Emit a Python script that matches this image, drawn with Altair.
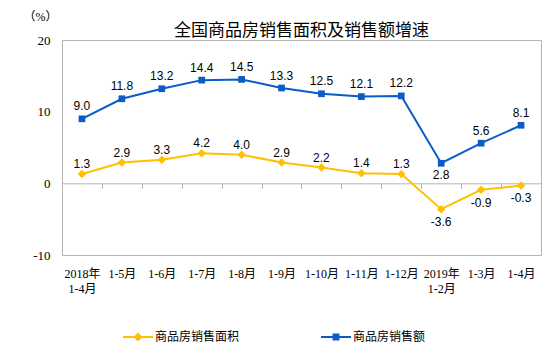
import altair as alt
import pandas as pd

categories = ["2018年\n1-4月", "1-5月", "1-6月", "1-7月", "1-8月", "1-9月", "1-10月",
              "1-11月", "1-12月", "2019年\n1-2月", "1-3月", "1-4月"]
area_growth = [1.3, 2.9, 3.3, 4.2, 4.0, 2.9, 2.2, 1.4, 1.3, -3.6, -0.9, -0.3]
sales_growth = [9.0, 11.8, 13.2, 14.4, 14.5, 13.3, 12.5, 12.1, 12.2, 2.8, 5.6, 8.1]
series_names = ["商品房销售面积", "商品房销售额"]
y_ticks = [-10, 0, 10, 20]
title_text = "全国商品房销售面积及销售额增速"
unit_text = "（%）"

rows = []
for s, vals in zip(series_names, [area_growth, sales_growth]):
    for c, v in zip(categories, vals):
        rows.append({"month": c, "series": s, "value": v, "label": f"{v:.1f}"})
df = pd.DataFrame(rows)

COLORS = ["#FFC000", "#0A5CC6"]
GRAY = "#B4B4B4"
SERIF = "Liberation Serif, Noto Sans CJK SC"
CJK = "Noto Sans CJK SC"

x = alt.X(
    "month:N", sort=categories,
    scale=alt.Scale(type="band", paddingInner=0, paddingOuter=0),
    axis=alt.Axis(title=None, orient="bottom", offset=-71.67, domain=True, domainColor=GRAY,
                  ticks=True, tickColor=GRAY, tickSize=5, tickBand="extent", grid=False,
                  labelAngle=0, labelFont=SERIF, labelFontSize=12, labelColor="black",
                  labelPadding=80, labelBaseline="top", labelLineHeight=15.5,
                  labelOverlap=False, labelExpr="split(datum.label, '\\n')"),
)
y = alt.Y(
    "value:Q", scale=alt.Scale(domain=[-10, 20], nice=False, zero=False),
    axis=alt.Axis(values=y_ticks, title=unit_text, titleAngle=0, titleX=-22, titleY=-24,
                  titleAlign="center", titleBaseline="middle", titleFont=SERIF,
                  titleFontSize=12, titleFontWeight="normal", titleColor="black",
                  domain=False, ticks=False, grid=False, labelPadding=12,
                  labelFont="Liberation Serif", labelFontSize=13, labelColor="black",
                  labelExpr="'' + datum.value"),
)

base = alt.Chart(df).encode(x=x, y=y)

layers = []
shapes = ["diamond", "square"]
sizes = [72, 45]
for i, s in enumerate(series_names):
    sub = base.transform_filter(alt.datum.series == s)
    layers.append(sub.mark_line(color=COLORS[i], strokeWidth=2))
    layers.append(sub.mark_point(shape=shapes[i], size=sizes[i], filled=True,
                                 color=COLORS[i], opacity=1))

# data labels
label_specs = [
    (series_names[0], "datum.value >= 0", -10),
    (series_names[0], "datum.value < 0", 13),
    (series_names[1], "datum.value >= 5", -12.5),
    (series_names[1], "datum.value < 5", 12),
]
for s, cond, dy in label_specs:
    layers.append(
        base.transform_filter(alt.datum.series == s).transform_filter(cond)
        .mark_text(dy=dy, font="Liberation Sans", fontSize=12, color="black")
        .encode(text="label:N")
    )

p_area = "M-1,-0.07L1,-0.07L1,0.07L-1,0.07Z M0,-0.3L0.3,0L0,0.3L-0.3,0Z"
p_sales = "M-1,-0.07L1,-0.07L1,0.07L-1,0.07Z M-0.23,-0.23L0.23,-0.23L0.23,0.23L-0.23,0.23Z"

leg = alt.Legend(title=None, orient="none", legendX=61, legendY=282, direction="horizontal",
                 symbolSize=900, symbolStrokeWidth=0, symbolOpacity=1,
                 labelFont=CJK, labelFontSize=12, labelColor="black", labelOffset=2,
                 columnPadding=81, padding=0)
legend_layer = base.mark_point(filled=True, opacity=0).encode(
    color=alt.Color("series:N", scale=alt.Scale(domain=series_names, range=COLORS), legend=leg),
    shape=alt.Shape("series:N", scale=alt.Scale(domain=series_names, range=[p_area, p_sales]),
                    legend=leg),
)
layers.append(legend_layer)

chart = alt.layer(*layers).properties(
    width=479, height=215,
    title=alt.Title(title_text, font=CJK, fontSize=17, fontWeight="normal", color="black",
                    anchor="middle", offset=6, baseline="alphabetic", dy=49),
    autosize=alt.AutoSizeParams(type="none"),
    padding={"left": 54, "top": 32, "right": 4, "bottom": 88},
    background="white",
).configure_view(stroke=GRAY, strokeWidth=1)

chart.save("out.html", embed_options={"renderer": "svg", "actions": False})
